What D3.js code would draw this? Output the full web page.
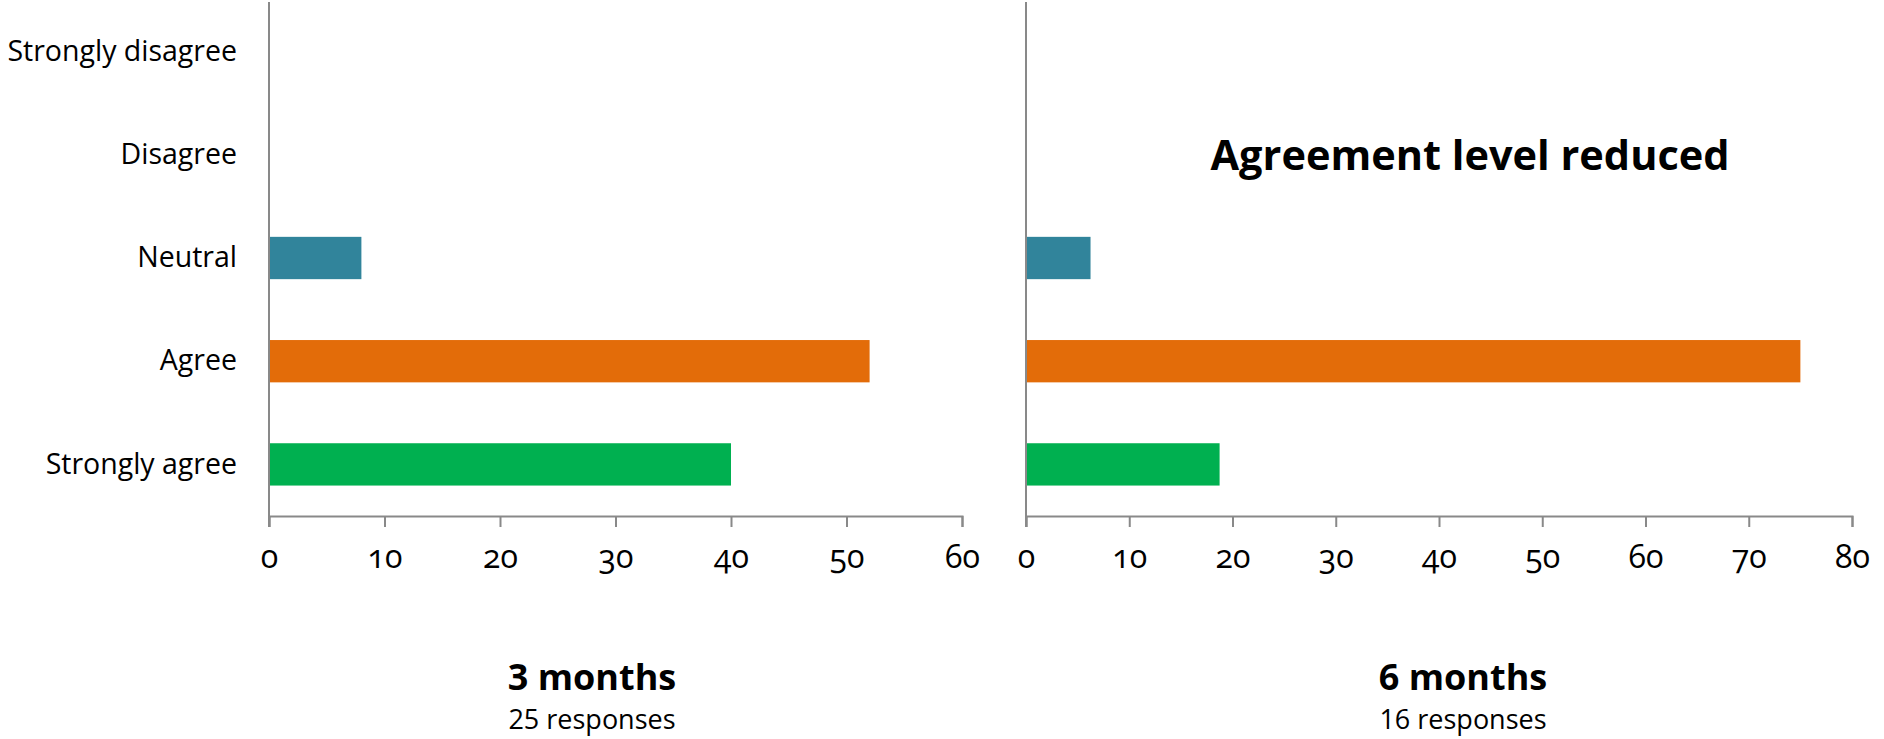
<!DOCTYPE html>
<html>
<head>
<meta charset="utf-8">
<script src="https://cdn.jsdelivr.net/npm/d3@7"></script>
<style>
  html, body { margin: 0; padding: 0; background: #fff; }
  svg { display: block; }
  text { font-family: "Open Sans", Lato, sans-serif; fill: #000; }
  .tick text { font-feature-settings: "onum" 1; font-variant-numeric: oldstyle-nums; }
</style>
</head>
<body>
<svg id="chart" width="1884" height="739"></svg>
<script>
const categories = ["Strongly disagree", "Disagree", "Neutral", "Agree", "Strongly agree"];
const colors = ["#31849B", "#31849B", "#31849B", "#E36C09", "#00B050"];
const values3 = [0, 0, 8, 52, 40];
const values6 = [0, 0, 6.25, 75, 18.75];
const ticks3 = [0, 10, 20, 30, 40, 50, 60];
const ticks6 = [0, 10, 20, 30, 40, 50, 60, 70, 80];
const panelTitles = ["3 months", "6 months"];
const panelSubtitles = ["25 responses", "16 responses"];
const annotation = "Agreement level reduced";

const svg = d3.select("#chart");
const axisColor = "#898989";

const y = d3.scaleBand().domain(categories).range([0, 516]).paddingInner(0.59).paddingOuter(0.295);

const panels = [
  { values: values3, ticks: ticks3, x0: 269, x1: 962, title: panelTitles[0], sub: panelSubtitles[0], labels: true },
  { values: values6, ticks: ticks6, x0: 1026, x1: 1852, title: panelTitles[1], sub: panelSubtitles[1], labels: false }
];

panels.forEach((p, i) => {
  const x = d3.scaleLinear().domain([0, d3.max(p.ticks)]).range([p.x0, p.x1]);
  const g = svg.append("g");

  g.selectAll("rect.bar").data(categories.map((c, k) => ({ c, v: p.values[k], col: colors[k] })))
    .join("rect")
    .attr("class", "bar")
    .attr("x", x(0))
    .attr("y", d => y(d.c))
    .attr("width", d => x(d.v) - x(0))
    .attr("height", y.bandwidth())
    .attr("fill", d => d.col);

  const xa = g.append("g").attr("transform", `translate(0,516)`)
    .call(d3.axisBottom(x).tickValues(p.ticks).tickSize(11).tickPadding(18).tickFormat(d3.format("d")));
  xa.select(".domain").attr("stroke", axisColor).attr("stroke-width", 2);
  xa.selectAll(".tick line").attr("stroke", axisColor).attr("stroke-width", 2);
  xa.selectAll(".tick text").attr("font-size", 32).attr("font-family", "'Open Sans', Lato, sans-serif");

  const ya = g.append("g").attr("transform", `translate(${x(0)},0)`)
    .call(d3.axisLeft(y).tickSize(0).tickPadding(32));
  ya.select(".domain").attr("stroke", axisColor).attr("stroke-width", 2).attr("d", `M0,2V527`);
  if (p.labels) {
    ya.selectAll(".tick text").attr("font-size", 28.5).attr("font-family", "'Open Sans', Lato, sans-serif");
  } else {
    ya.selectAll(".tick text").remove();
  }

  const cx = i === 0 ? 592 : 1463;
  svg.append("text").attr("x", cx).attr("y", 690).attr("text-anchor", "middle")
    .attr("font-size", 36).attr("font-weight", "bold").text(p.title);
  svg.append("text").attr("x", cx).attr("y", 729).attr("text-anchor", "middle")
    .attr("font-size", 27).text(p.sub);
});

svg.append("text").attr("x", 1470).attr("y", 170).attr("text-anchor", "middle")
  .attr("font-size", 41.5).attr("font-weight", "bold").text(annotation);
</script>
</body>
</html>
